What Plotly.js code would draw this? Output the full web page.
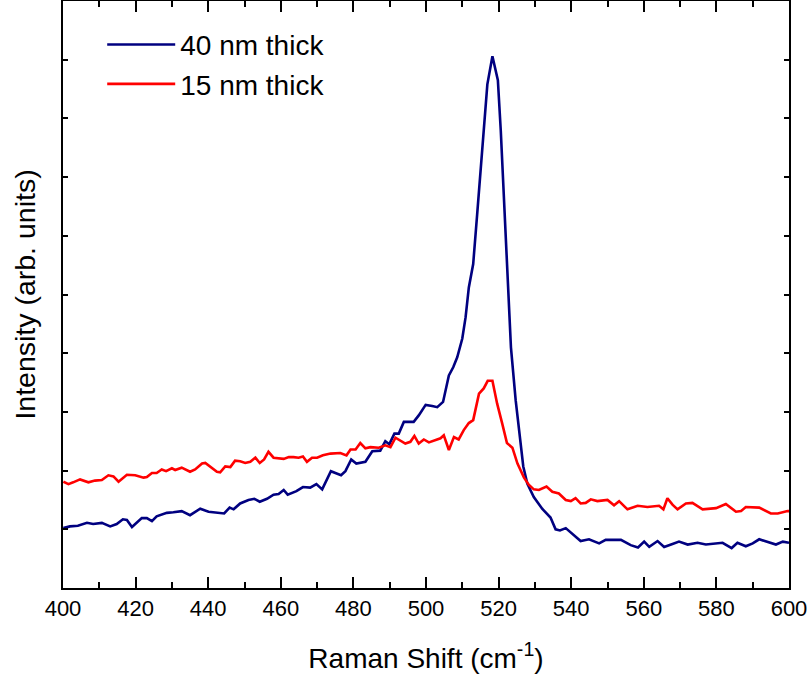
<!DOCTYPE html>
<html>
<head>
<meta charset="utf-8">
<script src="https://cdn.plot.ly/plotly-3.0.1.min.js"></script>
<style>html,body{margin:0;padding:0;background:#fff;}#chart{width:809px;height:678px;}</style>
</head>
<body>
<div id="chart"></div>
<script>
// Raman shift (cm^-1) and intensity (arb. units)
const shift40 = [400.1,401.9,404.1,406.6,408.3,410.7,413.0,414.8,416.5,417.6,419.0,421.7,423.1,424.5,425.8,428.6,430.4,432.7,435.0,437.8,440.1,442.4,444.4,445.9,447.0,448.8,451.1,452.7,454.2,456.2,458.0,459.4,460.8,461.9,464.3,466.1,468.1,469.8,471.4,473.8,476.6,477.8,479.4,480.8,483.3,485.2,487.4,488.8,489.9,491.3,492.5,493.9,496.6,498.0,499.9,501.7,503.1,504.7,506.3,507.5,508.6,510.0,510.9,511.8,513.0,514.1,515.0,515.8,516.9,518.3,519.8,520.6,521.5,522.4,523.4,524.7,525.9,526.8,527.9,529.7,532.0,534.3,535.7,536.9,538.5,540.8,542.6,544.9,547.7,549.5,551.8,553.7,556.4,558.4,560.1,561.5,563.8,565.6,567.9,569.7,572.1,574.8,577.1,579.9,581.7,584.2,585.8,588.1,590.0,591.8,594.1,596.4,598.3,600.0];
const int40 = [1.02,1.05,1.06,1.11,1.09,1.11,1.05,1.09,1.17,1.16,1.04,1.19,1.19,1.14,1.22,1.28,1.29,1.31,1.24,1.35,1.30,1.29,1.27,1.37,1.34,1.44,1.50,1.52,1.47,1.52,1.59,1.60,1.67,1.59,1.65,1.72,1.71,1.77,1.68,1.99,1.92,1.99,2.19,2.12,2.15,2.33,2.34,2.50,2.45,2.63,2.63,2.83,2.83,2.94,3.12,3.10,3.08,3.17,3.62,3.76,3.93,4.25,4.61,5.12,5.52,6.37,7.11,7.79,8.58,9.06,8.65,7.79,6.65,5.52,4.10,3.20,2.52,2.07,1.78,1.55,1.35,1.20,1.00,0.98,1.02,0.90,0.80,0.83,0.76,0.82,0.82,0.82,0.73,0.69,0.79,0.70,0.80,0.70,0.75,0.79,0.74,0.77,0.74,0.76,0.77,0.68,0.77,0.71,0.76,0.83,0.79,0.74,0.79,0.77];

const shift15 = [400.1,401.5,402.8,404.7,407.0,408.8,410.7,412.5,413.9,415.3,417.6,419.9,422.2,423.1,424.5,425.8,427.2,428.4,430.0,430.9,432.7,435.0,436.4,438.3,439.2,440.6,442.4,443.3,444.7,446.1,447.4,448.8,450.2,451.6,453.0,454.2,455.4,456.6,458.0,460.8,462.2,463.5,464.9,466.1,467.2,468.6,470.0,471.6,473.7,476.4,478.1,479.2,480.6,481.9,483.3,484.7,487.0,488.8,490.2,491.6,493.0,494.3,495.7,496.8,498.0,499.4,500.8,502.6,504.0,504.9,506.3,507.7,509.0,510.4,511.8,513.0,514.1,514.6,515.9,517.0,518.3,519.6,521.0,522.3,523.8,525.2,527.0,528.3,529.7,531.1,533.2,534.8,536.6,538.5,539.9,541.2,542.6,544.0,545.4,547.2,550.0,551.8,553.2,555.5,558.3,561.0,564.2,565.4,566.5,567.9,569.3,571.6,573.4,576.2,579.9,582.6,585.4,586.8,588.1,591.8,595.0,596.9,599.6,600.0];
const int15 = [1.81,1.77,1.80,1.85,1.80,1.83,1.84,1.92,1.90,1.81,1.93,1.92,1.88,1.89,1.96,1.96,2.02,1.99,2.04,2.01,2.05,1.98,2.02,2.12,2.13,2.06,1.98,1.97,2.07,2.06,2.17,2.16,2.13,2.15,2.22,2.13,2.19,2.32,2.22,2.20,2.23,2.23,2.22,2.24,2.15,2.22,2.22,2.26,2.29,2.30,2.26,2.36,2.36,2.47,2.38,2.40,2.39,2.43,2.40,2.56,2.51,2.46,2.49,2.59,2.46,2.53,2.48,2.52,2.55,2.60,2.35,2.57,2.53,2.69,2.81,2.86,3.14,3.31,3.40,3.53,3.53,3.14,2.80,2.47,2.39,2.12,1.88,1.76,1.68,1.67,1.73,1.64,1.61,1.50,1.48,1.53,1.44,1.45,1.51,1.48,1.50,1.41,1.48,1.34,1.40,1.38,1.40,1.34,1.53,1.42,1.34,1.44,1.45,1.34,1.36,1.43,1.30,1.31,1.38,1.37,1.27,1.27,1.31,1.31];

const seriesNames = ["40 nm thick", "15 nm thick"];
const xTickVals = [400,420,440,460,480,500,520,540,560,580,600];

const FONT = "Liberation Sans, Arial, sans-serif";

const traces = [
  {x: shift40, y: int40, name: seriesNames[0], type: "scatter", mode: "lines",
   line: {color: "#000080", width: 2.6}},
  {x: shift15, y: int15, name: seriesNames[1], type: "scatter", mode: "lines",
   line: {color: "#ff0000", width: 2.6}}
];

const layout = {
  width: 809, height: 678,
  margin: {l: 63, r: 20, t: 1, b: 90, pad: 0},
  paper_bgcolor: "#fff", plot_bgcolor: "#fff",
  font: {family: FONT, color: "#000"},
  showlegend: true,
  legend: {x: 0.054, y: 0.968, xanchor: "left", yanchor: "top",
           font: {family: FONT, size: 28, color: "#000"},
           bgcolor: "rgba(0,0,0,0)", borderwidth: 0, itemwidth: 68,
           tracegroupgap: 0},
  xaxis: {
    range: [400, 600], tickvals: xTickVals, ticktext: xTickVals.map(String),
    ticks: "inside", ticklen: 11, tickwidth: 2, tickcolor: "#000",
    minor: {dtick: 10, ticks: "inside", ticklen: 6, tickwidth: 2, tickcolor: "#000"},
    showline: true, linewidth: 2, linecolor: "#000", mirror: "ticks",
    showgrid: false, zeroline: false,
    tickfont: {family: FONT, size: 22, color: "#000"},
    title: {text: "Raman Shift (cm<sup>-1</sup>)", font: {family: FONT, size: 28, color: "#000"}, standoff: 28},
    automargin: false
  },
  yaxis: {
    range: [0, 10], dtick: 1, showticklabels: false,
    ticks: "inside", ticklen: 5, tickwidth: 2, tickcolor: "#000",
    showline: true, linewidth: 2, linecolor: "#000", mirror: "ticks",
    showgrid: false, zeroline: false,
    title: {text: "Intensity (arb. units)", font: {family: FONT, size: 28.5, color: "#000"}, standoff: 17},
    automargin: false
  }
};

Plotly.newPlot("chart", traces, layout, {displayModeBar: false, staticPlot: true});
</script>
</body>
</html>
